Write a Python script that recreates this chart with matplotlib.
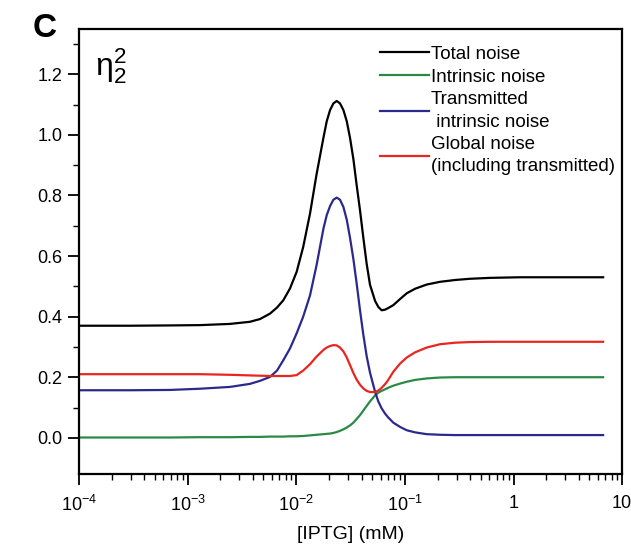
import matplotlib
matplotlib.use("Agg")
import matplotlib.pyplot as plt
from matplotlib.ticker import FixedLocator, NullFormatter

plt.rcParams['font.family'] = ['Liberation Sans', 'DejaVu Sans']
plt.rcParams['mathtext.fontset'] = 'custom'
plt.rcParams['mathtext.rm'] = 'Liberation Sans'
plt.rcParams['mathtext.it'] = 'Liberation Sans:italic'
plt.rcParams['mathtext.bf'] = 'Liberation Sans:bold'

# [IPTG] (mM)
iptg = [1.0e-4, 2.95e-4, 6.89e-4, 1.30e-3, 2.46e-3, 3.75e-3, 4.64e-3, 5.74e-3,
        6.66e-3, 7.61e-3, 8.77e-3, 1.01e-2, 1.16e-2, 1.34e-2, 1.54e-2, 1.78e-2,
        1.91e-2, 2.05e-2, 2.20e-2, 2.36e-2, 2.53e-2, 2.72e-2, 2.92e-2, 3.13e-2,
        3.36e-2, 3.60e-2, 3.87e-2, 4.15e-2, 4.45e-2, 4.78e-2, 5.32e-2, 5.70e-2,
        6.12e-2, 6.57e-2, 7.00e-2, 7.83e-2, 9.03e-2, 0.104, 0.124, 0.159, 0.211,
        0.290, 0.398, 0.608, 1.15, 2.69, 6.68]

total = [0.370, 0.370, 0.371, 0.372, 0.376, 0.383, 0.392, 0.410,
         0.430, 0.454, 0.493, 0.548, 0.630, 0.740, 0.870, 0.990,
         1.045, 1.082, 1.104, 1.112, 1.104, 1.082, 1.045, 0.990,
         0.920, 0.835, 0.750, 0.660, 0.575, 0.505, 0.452, 0.432,
         0.421, 0.423, 0.428, 0.438, 0.458, 0.477, 0.492, 0.506, 0.515,
         0.521, 0.525, 0.528, 0.530, 0.530, 0.530]

intrinsic = [0.001, 0.001, 0.001, 0.002, 0.002, 0.003, 0.003, 0.004,
             0.004, 0.004, 0.005, 0.005, 0.006, 0.008, 0.010, 0.012,
             0.013, 0.014, 0.016, 0.019, 0.023, 0.028, 0.034, 0.041,
             0.050, 0.062, 0.075, 0.090, 0.105, 0.120, 0.140, 0.149,
             0.155, 0.160, 0.165, 0.172, 0.179, 0.185, 0.191, 0.196, 0.199,
             0.200, 0.200, 0.200, 0.200, 0.200, 0.200]

transmitted = [0.157, 0.157, 0.158, 0.162, 0.168, 0.178, 0.188, 0.201,
               0.222, 0.256, 0.295, 0.345, 0.400, 0.470, 0.570, 0.690,
               0.735, 0.765, 0.786, 0.793, 0.786, 0.762, 0.720, 0.660,
               0.590, 0.510, 0.420, 0.340, 0.270, 0.215, 0.152, 0.120,
               0.097, 0.080, 0.068, 0.050, 0.036, 0.025, 0.018, 0.012, 0.010,
               0.009, 0.009, 0.009, 0.009, 0.009, 0.009]

global_noise = [0.210, 0.210, 0.210, 0.210, 0.208, 0.206, 0.205, 0.204,
                0.204, 0.204, 0.204, 0.207, 0.222, 0.243, 0.268, 0.290,
                0.298, 0.303, 0.306, 0.305, 0.298, 0.285, 0.265, 0.240,
                0.214, 0.192, 0.175, 0.163, 0.155, 0.151, 0.151, 0.156,
                0.165, 0.177, 0.190, 0.218, 0.245, 0.265, 0.282, 0.298, 0.309,
                0.314, 0.316, 0.317, 0.317, 0.317, 0.317]

labels = ["Total noise", "Intrinsic noise", "Transmitted\n intrinsic noise",
          "Global noise\n(including transmitted)"]
colors = ["#000000", "#2a8a45", "#2b2a8c", "#e8261f"]

xticks = [1e-4, 1e-3, 1e-2, 1e-1, 1, 10]
xticklabels = ["$10^{-4}$", "$10^{-3}$", "$10^{-2}$", "$10^{-1}$", "1", "10"]
yticks = [0.0, 0.2, 0.4, 0.6, 0.8, 1.0, 1.2]
yminor = [0.1, 0.3, 0.5, 0.7, 0.9, 1.1, 1.3]

fig = plt.figure(figsize=(6.31, 5.45), dpi=100)
ax = fig.add_axes([0.125, 0.130, 0.861, 0.817])

for ys, lab, c in zip([total, intrinsic, transmitted, global_noise], labels, colors):
    ax.plot(iptg, ys, color=c, lw=1.6, label=lab, solid_joinstyle="round")

ax.set_xscale("log")
ax.set_xlim(1e-4, 10)
ax.set_ylim(-0.12, 1.35)
ax.set_xticks(xticks)
ax.set_xticklabels(xticklabels)
ax.set_yticks(yticks)
ax.set_yticklabels([f"{v:.1f}" for v in yticks])
ax.yaxis.set_minor_locator(FixedLocator(yminor))
ax.yaxis.set_minor_formatter(NullFormatter())

ax.tick_params(axis="both", which="major", direction="out", length=8, width=1.3,
               labelsize=13, pad=4)
ax.tick_params(axis="both", which="minor", direction="out", length=4, width=1.0)
ax.tick_params(axis="x", which="major", pad=7)
for s in ax.spines.values():
    s.set_linewidth(1.6)

ax.set_xlabel("[IPTG] (mM)", fontsize=14, labelpad=8)

ax.text(0.03, 0.962, r"$\mathrm{\eta}_2^2$", transform=ax.transAxes, fontsize=23,
        va="top", ha="left")
fig.text(0.051, 0.932, "C", fontsize=24, fontweight="bold", va="baseline", ha="left")

leg = ax.legend(loc="upper left", bbox_to_anchor=(0.554, 0.962), frameon=False,
                fontsize=13.5, handlelength=2.6, handletextpad=0.12,
                labelspacing=0.3, borderaxespad=0.0, borderpad=0.0)
for t in leg.get_texts():
    t.set_linespacing(1.4)

fig.savefig("out.png", dpi=100)
